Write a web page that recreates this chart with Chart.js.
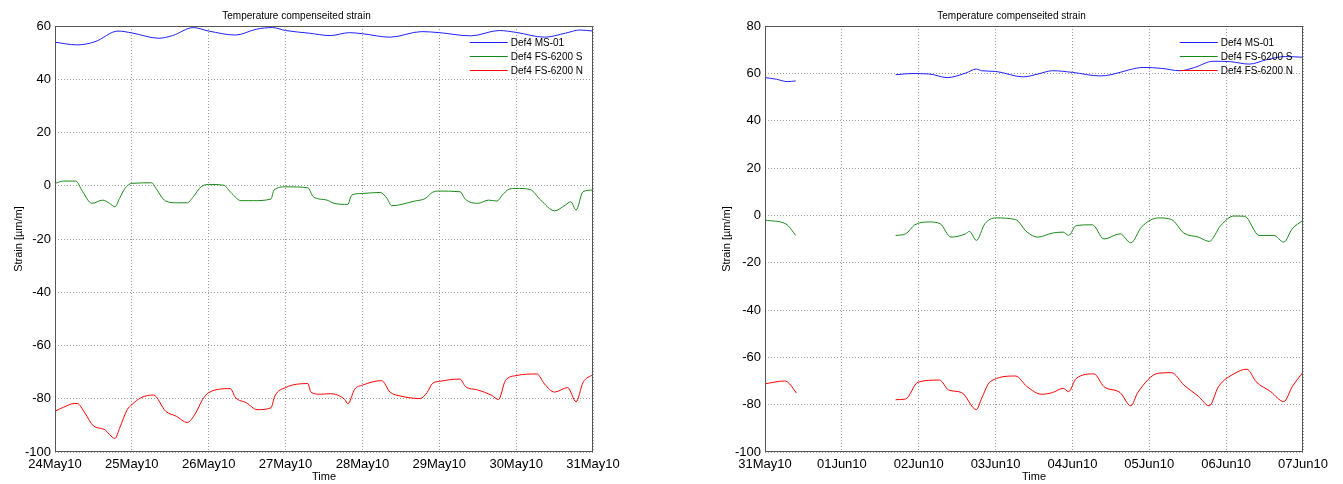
<!DOCTYPE html>
<html>
<head>
<meta charset="utf-8">
<script src="https://cdn.jsdelivr.net/npm/chart.js@4.4.0/dist/chart.umd.min.js"></script>
<style>
html, body { margin:0; padding:0; background:#fff; }
body { width:1343px; height:484px; position:relative; overflow:hidden; }
.box { position:absolute; top:0; height:484px; }
#leftBox { left:0; width:634px; }
#rightBox { left:720px; width:623px; }
</style>
</head>
<body>
<div class="box" id="leftBox"><canvas id="leftChart"></canvas></div>
<div class="box" id="rightBox"><canvas id="rightChart"></canvas></div>
<script>
// series names
var seriesNames = ['Def4 MS-01', 'Def4 FS-6200 S', 'Def4 FS-6200 N'];
var seriesColors = ['#2020ff', '#1a8a1a', '#ff0000'];

// x tick labels (one per day)
var leftDates = ['24May10','25May10','26May10','27May10','28May10','29May10','30May10','31May10'];
var rightDates = ['31May10','01Jun10','02Jun10','03Jun10','04Jun10','05Jun10','06Jun10','07Jun10'];

// left panel, x in days since 24May10
var leftBlueDay = [0,0.29,0.52,0.82,1.0,1.35,1.53,1.8,2.0,2.35,2.62,2.83,3.0,3.31,3.58,3.83,4.0,4.36,4.77,5.0,5.41,5.78,6.0,6.37,6.64,6.83,7.0];
var leftBlueVal = [53.9,52.9,54.1,58.1,57.4,55.4,56.4,59.4,58.1,56.6,58.8,59.4,58.3,57.3,56.4,57.5,57.1,55.8,57.9,57.5,56.3,58.3,57.6,55.8,57.3,58.5,58.1];

var leftGreenDay = [0,0.11,0.27,0.36,0.48,0.62,0.71,0.78,0.84,0.91,1.0,1.26,1.3,1.44,1.58,1.72,1.8,1.9,2.0,2.19,2.3,2.42,2.58,2.81,2.85,3.0,3.29,3.36,3.54,3.63,3.81,3.86,4.0,4.23,4.32,4.38,4.68,4.82,4.91,5.0,5.27,5.34,5.5,5.64,5.75,5.82,5.91,6.0,6.18,6.32,6.5,6.64,6.71,6.78,6.87,7.0];
var leftGreenVal = [0.9,1.75,1.75,-2.25,-6.6,-5.4,-6.6,-7.9,-4.75,-1,0.9,1.1,-0.4,-5.75,-6.4,-6.4,-4.1,-0.4,0.5,0.25,-2.9,-5.6,-5.6,-5,-1.6,-0.4,-0.75,-4.1,-5.4,-6.6,-7,-3.5,-2.9,-2.5,-4.75,-7.5,-5.75,-4.75,-2.5,-2,-2.25,-5.1,-6.6,-5.4,-5.75,-3.5,-1.25,-1,-1.4,-5.4,-9.4,-7.25,-6,-9.1,-2.25,-1.6];

var leftRedDay = [0,0.11,0.25,0.29,0.39,0.5,0.64,0.78,0.84,0.94,1.0,1.12,1.28,1.44,1.58,1.72,1.83,1.92,2.0,2.28,2.35,2.49,2.63,2.81,2.86,3.0,3.29,3.33,3.45,3.58,3.77,3.81,3.9,4.0,4.25,4.36,4.5,4.75,4.84,4.91,5.0,5.27,5.34,5.5,5.68,5.77,5.86,6.0,6.27,6.37,6.5,6.67,6.78,6.87,7.0];
var leftRedVal = [-84.7,-83.2,-81.8,-81.8,-85.4,-90.2,-91.5,-94.9,-91.1,-84.1,-82.2,-79.6,-78.6,-84.7,-86.6,-88.9,-85.4,-80.3,-77.7,-76.2,-79.6,-81.5,-84.1,-83.4,-79,-75.8,-74.3,-77.5,-78.3,-78.1,-80.3,-81.9,-76.4,-74.9,-73.2,-77.5,-79,-79.9,-77.7,-74.3,-73.5,-72.6,-75.4,-76.7,-78.7,-80.3,-73.2,-71.3,-70.7,-74.5,-77.5,-75.8,-81.1,-73.9,-70.9];

// right panel, x in days since 31May10 (null = no data)
var rightBlueDay = [0,0.15,0.29,0.4,1.0,1.7,1.9,2.14,2.37,2.61,2.75,2.82,3.0,3.36,3.55,3.74,4.0,4.36,4.5,4.74,4.92,5.16,5.4,5.59,5.83,6.06,6.3,6.53,6.77,7.0];
var rightBlueVal = [58.2,57.5,56.5,56.8,null,59.4,59.9,59.7,58.2,60.1,61.8,61.1,60.8,58.5,59.7,61.1,60.4,58.9,59.4,61.5,62.5,62.1,61.1,62.5,65.1,64.9,63.9,65.8,67.1,66.8];

var rightGreenDay = [0,0.27,0.4,1.0,1.7,1.83,1.95,2.14,2.28,2.42,2.61,2.66,2.75,2.86,3.0,3.26,3.41,3.55,3.74,3.88,3.95,4.05,4.26,4.41,4.62,4.76,4.9,5.12,5.29,5.45,5.64,5.78,5.93,6.1,6.24,6.43,6.62,6.75,6.86,7.0];
var rightGreenVal = [-2.1,-3.6,-8.5,null,-8.5,-7.8,-4,-2.8,-3.6,-9.2,-7.8,-6.8,-10.6,-3.6,-1.1,-1.8,-7.1,-9.2,-7.5,-7.1,-8.5,-4.3,-4,-10,-7.8,-11.6,-4.9,-1.1,-1.8,-7.5,-9.2,-11,-4.3,-0.3,-0.4,-8.5,-8.5,-11.3,-5.7,-2.1];

var rightRedDay = [0,0.25,0.29,0.41,1.0,1.7,1.83,1.99,2.27,2.39,2.56,2.75,2.82,2.93,3.26,3.41,3.6,3.74,3.88,3.95,4.05,4.28,4.41,4.62,4.76,4.85,5.12,5.29,5.45,5.64,5.78,5.9,6.1,6.27,6.39,6.58,6.75,6.86,7.0];
var rightRedVal = [-71.2,-70,-70.3,-75.1,null,-77.9,-77.6,-70.5,-69.6,-73.8,-74.9,-82.1,-77.2,-70.3,-67.9,-72.4,-75.6,-74.9,-73.1,-74.5,-68.9,-67,-72.4,-74.9,-80.5,-74.9,-66.7,-66.5,-71.7,-76.5,-80.5,-72.4,-67,-65,-70.3,-74.5,-78.7,-72.4,-66.3];

var leftYTicks = [-100, 60];
var rightYTicks = [-100, 80];

function toPoints(days, vals) {
    var pts = [];
    for (var i = 0; i < days.length; i++) {
        pts.push({ x: days[i], y: vals[i] });
    }
    return pts;
}

// frame box + MATLAB-like legend in the upper right corner
var framePlugin = {
    id: 'frame',
    afterDraw: function(chart) {
        var a = chart.chartArea;
        var ctx = chart.ctx;
        ctx.save();
        ctx.strokeStyle = '#555';
        ctx.lineWidth = 1;
        ctx.strokeRect(Math.round(a.left) + 0.5, Math.round(a.top) + 0.5,
            Math.round(a.right - a.left) - 1, Math.round(a.bottom - a.top) - 1);

        ctx.font = '10px "Liberation Sans", Arial, sans-serif';
        ctx.textBaseline = 'middle';
        ctx.fillStyle = '#000';
        var maxW = 0;
        chart.data.datasets.forEach(function(ds) {
            maxW = Math.max(maxW, ctx.measureText(ds.label).width);
        });
        var textLeft = a.right - 10 - maxW;
        chart.data.datasets.forEach(function(ds, i) {
            var y = Math.round(a.top + 16 + i * 14) + 0.5;
            ctx.strokeStyle = ds.borderColor;
            ctx.beginPath();
            ctx.moveTo(textLeft - 41, y);
            ctx.lineTo(textLeft - 3, y);
            ctx.stroke();
            ctx.fillText(ds.label, textLeft, y + 1);
        });
        ctx.restore();
    }
};

function makeChart(id, dates, yRange, series, yWidth, padRight, yTitlePad) {
    var datasets = [];
    for (var i = 0; i < series.length; i++) {
        datasets.push({
            label: seriesNames[i],
            data: toPoints(series[i][0], series[i][1]),
            borderColor: seriesColors[i],
            backgroundColor: seriesColors[i],
            borderWidth: 1,
            pointRadius: 0,
            spanGaps: false,
            cubicInterpolationMode: 'monotone'
        });
    }
    var font = { family: '"Liberation Sans", Arial, sans-serif', size: 13 };
    var small = { family: '"Liberation Sans", Arial, sans-serif', size: 11 };
    return new Chart(document.getElementById(id).getContext('2d'), {
        type: 'line',
        data: { datasets: datasets },
        options: {
            responsive: true,
            maintainAspectRatio: false,
            animation: false,
            layout: { padding: { left: 0, right: padRight, top: 0, bottom: 0 } },
            plugins: {
                legend: { display: false },
                tooltip: { enabled: false },
                title: {
                    display: true,
                    text: 'Temperature compenseited strain',
                    color: '#000',
                    font: { family: '"Liberation Sans", Arial, sans-serif', size: 10, weight: 'normal' },
                    padding: { top: 10, bottom: 4 }
                }
            },
            scales: {
                x: {
                    type: 'linear',
                    min: 0,
                    max: dates.length - 1,
                    afterFit: function(s) { s.height = 32; },
                    ticks: {
                        stepSize: 1,
                        color: '#000',
                        font: font,
                        padding: 5,
                        maxRotation: 0,
                        autoSkip: false,
                        callback: function(v) { return dates[v]; }
                    },
                    grid: { color: '#9a9a9a', lineWidth: 1, drawTicks: false },
                    border: { display: false, dash: [1, 2] },
                    title: { display: true, text: 'Time', color: '#000', font: small, padding: { top: 0, bottom: 0 } }
                },
                y: {
                    min: yRange[0],
                    max: yRange[1],
                    afterFit: function(s) { s.width = yWidth; },
                    ticks: { stepSize: 20, color: '#000', font: font, padding: 4 },
                    grid: { color: '#9a9a9a', lineWidth: 1, drawTicks: false },
                    border: { display: false, dash: [1, 2] },
                    title: { display: true, text: 'Strain [µm/m]', color: '#000', font: small, padding: { top: yTitlePad, bottom: 0 } }
                }
            }
        },
        plugins: [framePlugin]
    });
}

makeChart('leftChart', leftDates, leftYTicks,
    [[leftBlueDay, leftBlueVal], [leftGreenDay, leftGreenVal], [leftRedDay, leftRedVal]], 55, 41, 12);
makeChart('rightChart', rightDates, rightYTicks,
    [[rightBlueDay, rightBlueVal], [rightGreenDay, rightGreenVal], [rightRedDay, rightRedVal]], 45, 40, 0);
</script>
</body>
</html>
